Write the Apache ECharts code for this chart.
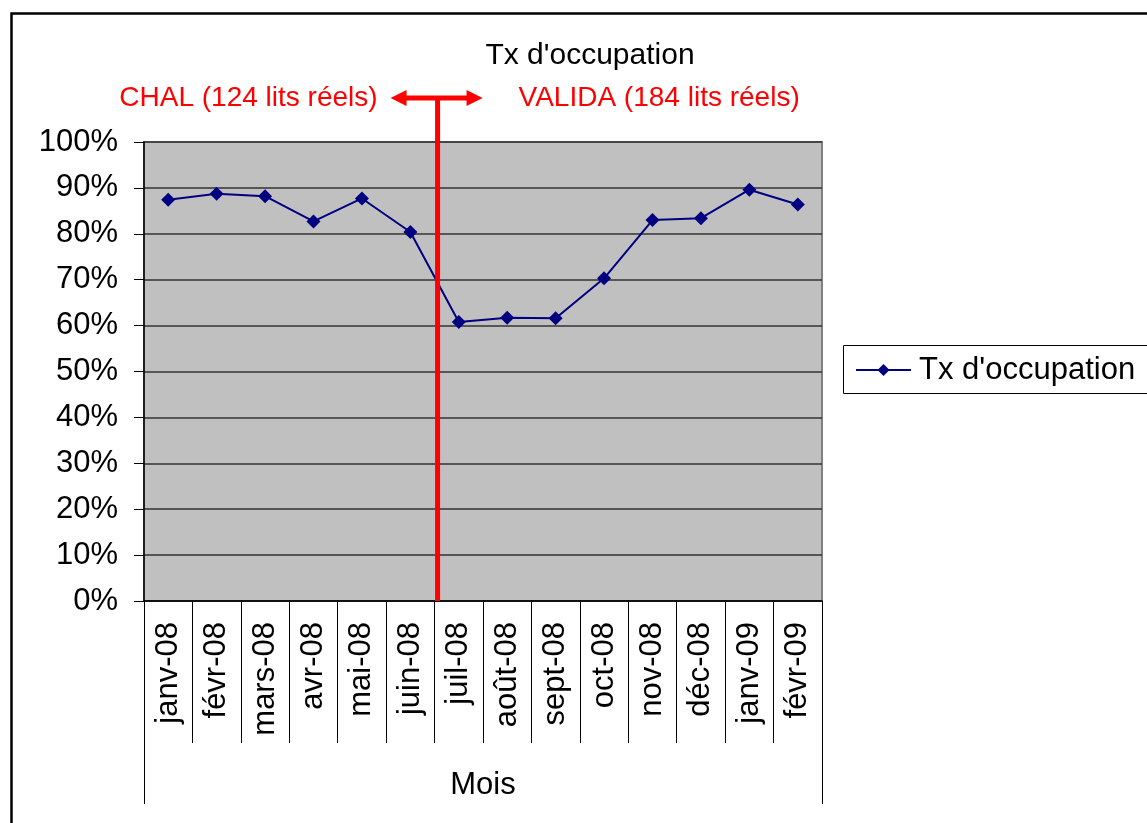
<!DOCTYPE html>
<html>
<head>
<meta charset="utf-8">
<script src="https://cdn.jsdelivr.net/npm/echarts@6/dist/echarts.min.js"></script>
<style>
html,body{margin:0;padding:0;background:#fff;}
#chart{width:1147px;height:823px;}
</style>
</head>
<body>
<div id="chart"></div>
<script>
const categories = ['janv-08','févr-08','mars-08','avr-08','mai-08','juin-08','juil-08','août-08','sept-08','oct-08','nov-08','déc-08','janv-09','févr-09'];
const occupation = [87.4, 88.7, 88.2, 82.7, 87.7, 80.4, 60.8, 61.7, 61.6, 70.3, 83.0, 83.4, 89.6, 86.4];
const seriesName = "Tx d'occupation";
const chartTitle = "Tx d'occupation";
const axisTitle = 'Mois';
const leftNote = 'CHAL (124 lits réels)';
const rightNote = 'VALIDA (184 lits réels)';
const FONT = '"Liberation Sans", Arial, sans-serif';

const chart = echarts.init(document.getElementById('chart'), null, {renderer: 'canvas'});

const option = {
  backgroundColor: '#ffffff',
  animation: false,
  textStyle: {fontFamily: FONT},
  title: {
    text: chartTitle,
    left: 585, top: 36,
    textAlign: 'center',
    textStyle: {fontFamily: FONT, fontSize: 30, fontWeight: 'normal', color: '#000'}
  },
  legend: {
    data: [seriesName],
    left: 843, top: 345,
    orient: 'vertical',
    itemWidth: 55, itemHeight: 15,
    padding: [9, 0, 7, 12],
    borderWidth: 0,
    textStyle: {fontFamily: FONT, fontSize: 31, color: '#000', lineHeight: 32, padding: [0,0,0,3]}
  },
  grid: {
    left: 144, right: 325, top: 142, bottom: 222,
    show: true, backgroundColor: '#C0C0C0', borderColor: '#808080', borderWidth: 2,
    containLabel: false
  },
  xAxis: [
    {
      type: 'category', data: categories, position: 'bottom', boundaryGap: true,
      axisLine: {show: true, lineStyle: {color: '#000', width: 1.5}},
      axisTick: {show: true, interval: 0, length: 142, lineStyle: {color: '#000', width: 1}},
      axisLabel: {interval: 0, rotate: 90, margin: 21, fontFamily: FONT, fontSize: 31, color: '#000'},
      splitLine: {show: false}
    },
    {
      type: 'category', data: [axisTitle], position: 'bottom', boundaryGap: true,
      axisLine: {show: false},
      axisTick: {show: true, length: 203, lineStyle: {color: '#000', width: 1}},
      axisLabel: {margin: 169, fontFamily: FONT, fontSize: 31, color: '#000'},
      splitLine: {show: false}
    }
  ],
  yAxis: {
    type: 'value', min: 0, max: 100, interval: 10,
    axisLine: {show: true, lineStyle: {color: '#000', width: 1.5}},
    axisTick: {show: true, length: 10, lineStyle: {color: '#000', width: 1}},
    axisLabel: {formatter: '{value}%', margin: 26, fontFamily: FONT, fontSize: 31, color: '#000'},
    splitLine: {show: true, lineStyle: {color: '#333', width: 1.5}}
  },
  series: [{
    name: seriesName, type: 'line', data: occupation,
    xAxisIndex: 0, yAxisIndex: 0,
    symbol: 'diamond', symbolSize: 14, showSymbol: true,
    lineStyle: {color: '#000080', width: 2},
    itemStyle: {color: '#000080'},
    z: 3
  }]
};
chart.setOption(option);

// Annotation (separator between the two periods) placed from axis coordinates
const xJuin = chart.convertToPixel({xAxisIndex: 0}, categories[5]);
const xJuil = chart.convertToPixel({xAxisIndex: 0}, categories[6]);
const xs = (xJuin + xJuil) / 2 + 3;
const yBottom = chart.convertToPixel({yAxisIndex: 0}, 0);
const yArrow = 98;
const red = '#FF0000';
chart.setOption({
  graphic: [
    {type: 'rect', left: 9, top: 11, shape: {x: 0, y: 0, width: 1160, height: 840},
     style: {fill: 'none', stroke: '#000', lineWidth: 2.5}, silent: true, z: 100},
    {type: 'rect', shape: {x: 843.5, y: 345.5, width: 400, height: 48},
     style: {fill: 'none', stroke: '#000', lineWidth: 1}, silent: true, z: 100},
    {type: 'rect', shape: {x: xs - 2.5, y: yArrow, width: 5, height: yBottom - yArrow},
     style: {fill: red}, z: 50},
    {type: 'polygon', shape: {points: [
      [xs - 47, yArrow], [xs - 31, yArrow - 8], [xs - 31, yArrow - 2.5],
      [xs + 29, yArrow - 2.5], [xs + 29, yArrow - 8], [xs + 45, yArrow],
      [xs + 29, yArrow + 8], [xs + 29, yArrow + 2.5], [xs - 31, yArrow + 2.5],
      [xs - 31, yArrow + 8]
    ]}, style: {fill: red}, z: 50},
    {type: 'text', x: xs - 60, y: yArrow, style: {text: leftNote, fill: red, font: '28px ' + FONT, textAlign: 'right', textVerticalAlign: 'middle'}, z: 50},
    {type: 'text', x: xs + 81, y: yArrow, style: {text: rightNote, fill: red, font: '28px ' + FONT, textAlign: 'left', textVerticalAlign: 'middle'}, z: 50}
  ]
});
</script>
</body>
</html>
